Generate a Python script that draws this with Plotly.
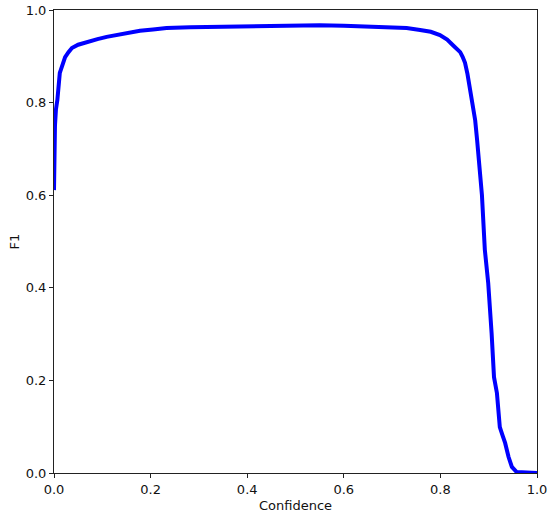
import plotly.graph_objects as go

# F1-confidence curve, values
confidence = [0.0, 0.0005, 0.001, 0.002, 0.004, 0.007, 0.012, 0.017, 0.023, 0.030,
              0.037, 0.050, 0.068, 0.09, 0.109, 0.13, 0.151, 0.178, 0.205, 0.233,
              0.282, 0.33, 0.40, 0.45, 0.50, 0.55, 0.60, 0.65, 0.70, 0.730,
              0.758, 0.780, 0.799, 0.814, 0.826, 0.834, 0.841, 0.846, 0.851, 0.856,
              0.861, 0.867, 0.872, 0.876, 0.882, 0.886, 0.892, 0.899, 0.906, 0.911,
              0.917, 0.923, 0.929, 0.934, 0.941, 0.948, 0.958, 0.98, 1.0]
f1 = [0.611, 0.66, 0.70, 0.75, 0.785, 0.806, 0.864, 0.882, 0.898, 0.909,
      0.918, 0.925, 0.931, 0.937, 0.942, 0.946, 0.950, 0.955, 0.958, 0.961,
      0.963, 0.964, 0.965, 0.966, 0.966, 0.967, 0.966, 0.964, 0.963, 0.961,
      0.957, 0.953, 0.946, 0.936, 0.924, 0.916, 0.909, 0.899, 0.886, 0.862,
      0.834, 0.800, 0.762, 0.719, 0.655, 0.600, 0.482, 0.410, 0.302, 0.207,
      0.173, 0.099, 0.080, 0.065, 0.035, 0.013, 0.002, 0.0, 0.0]

x_ticks = [0.0, 0.2, 0.4, 0.6, 0.8, 1.0]
y_ticks = [0.0, 0.2, 0.4, 0.6, 0.8, 1.0]

fig = go.Figure()
fig.add_trace(go.Scatter(x=confidence, y=f1, mode="lines",
                         line=dict(color="#0000ff", width=4), showlegend=False))

axis_style = dict(showgrid=False, zeroline=False, showline=True, mirror=True,
                  linecolor="#222222", linewidth=1, ticks="outside", ticklen=4,
                  tickwidth=1, tickcolor="#222222", tickformat=".1f",
                  automargin=False, tickfont=dict(size=13, color="#111111"))

fig.update_xaxes(range=[0, 1], tickvals=x_ticks,
                 title=dict(text="Confidence", font=dict(size=13, color="#111111"), standoff=5),
                 **axis_style)
fig.update_yaxes(range=[0, 1], tickvals=y_ticks,
                 title=dict(text="F1", font=dict(size=13, color="#111111"), standoff=3),
                 **axis_style)

fig.update_layout(width=550, height=518, plot_bgcolor="white", paper_bgcolor="white",
                  font=dict(family="DejaVu Sans"),
                  margin=dict(l=54, r=13, t=10, b=45))

# page body has a default 8px margin; drop it so the figure sits at the corner
fig.write_html("out.html", config={"displayModeBar": False},
               post_script="document.body.style.margin='0';")
